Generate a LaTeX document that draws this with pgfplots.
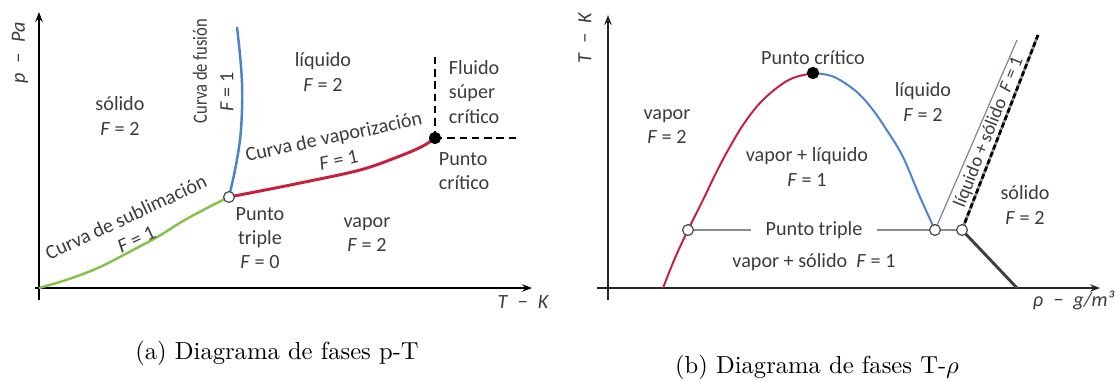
\documentclass[border=0pt]{standalone}
\usepackage{fontspec}
\usepackage{pgfplots}
\pgfplotsset{compat=1.18}
\usetikzlibrary{arrows.meta}
\newfontfamily\lab{Carlito}
\definecolor{labgray}{HTML}{3C3C3C}
\definecolor{vapred}{HTML}{C8203C}
\definecolor{fusblue}{HTML}{4A82CC}
\definecolor{subgreen}{HTML}{86C24A}
\definecolor{linegray}{HTML}{8A8A8A}

\pgfplotsset{
  phase/.style={
    axis lines=middle, x=0.4066pt, y=0.4066pt, anchor=origin,
    xtick=\empty, ytick=\empty, clip=false,
    axis line style={black, line width=0.9pt, -{Stealth[length=4pt,width=3pt]}},
  },
  triple/.style={only marks, mark=*, mark size=2.2pt,
    mark options={fill=white, draw=black!70, line width=0.5pt}},
  critical/.style={only marks, mark=*, mark size=2.3pt, mark options={fill=black, draw=black}},
}

\begin{document}
\begin{tikzpicture}[x=0.4066pt, y=0.4066pt,
  lbl/.style={font=\lab\fontsize{8.2}{9.8}\selectfont, text=labgray, align=center, inner sep=1pt},
  capt/.style={font=\fontsize{10}{12}\selectfont, inner sep=0pt}]
\useasboundingbox (0,0) rectangle (1119,381);

% ---------------- (a) p-T diagram ----------------
\begin{axis}[phase, at={(39,93)}, xmin=-4, xmax=493, ymin=-12, ymax=276]
  % sublimation curve
  \addplot[subgreen, line width=1pt, smooth, tension=0.6] coordinates
    {(0,0) (30,9) (61,21) (94,38) (120,52) (144,67) (170,81) (190,91)};
  % fusion curve
  \addplot[fusblue, line width=1pt, smooth, tension=0.6] coordinates
    {(190,91) (196,118) (201,148) (203,178) (203,205) (201,233) (198,261)};
  % vaporization curve
  \addplot[vapred, line width=1.2pt, smooth, tension=0.6] coordinates
    {(190,91) (221,97) (261,105) (321,118) (361,132) (384,142) (396,150)};
  % supercritical boundaries
  \addplot[black, line width=0.9pt, densely dashed] coordinates {(396,150) (396,233)};
  \addplot[black, line width=0.9pt, densely dashed] coordinates {(396,150) (479,150)};
  \addplot[critical] coordinates {(396,150)};
  \addplot[triple] coordinates {(190,91)};
\end{axis}

\node[lbl] at (120,265) {sólido\\\textit{F} = 2};
\node[lbl, rotate=90] at (200,310) {\scalebox{0.82}[1]{Curva de fusión}};
\node[lbl, rotate=90] at (227,289) {\textit{F} = 1};
\node[lbl] at (323,309) {líquido\\\textit{F} = 2};
\node[lbl, anchor=west, align=left] at (446,289) {Fluido\\súper\\crítico};
\node[lbl, anchor=west, align=left] at (436,210) {Punto\\crítico};
\node[lbl, rotate=12] at (336,233) {Curva de vaporización\\\textit{F} = 1};
\node[lbl, rotate=25] at (131,153) {Curva de sublimación\\\textit{F} = 1};
\node[lbl] at (260,143) {Punto\\triple\\\textit{F} = 0};
\node[lbl] at (367,146) {vapor\\\textit{F} = 2};
\node[lbl, rotate=90] at (20,328) {\itshape p\enspace−\enspace Pa};
\node[lbl] at (523,79) {\itshape T\enspace−\enspace K};
\node[capt] at (277,28) {(a) Diagrama de fases p-T};

% ---------------- (b) T-rho diagram ----------------
\begin{axis}[phase, at={(608,93)}, xmin=-11, xmax=492, ymin=-12, ymax=273,
  axis line style={black!85, line width=1.2pt, -{Stealth[length=4pt,width=3pt]}}]
  % saturated vapour branch
  \addplot[vapred, line width=0.8pt, smooth, tension=0.6] coordinates
    {(55,0) (67,30) (80,58) (95,88) (107,113) (119,136) (135,163) (152,185) (170,201) (185,210) (205,215)};
  % saturated liquid branch
  \addplot[fusblue, line width=0.8pt, smooth, tension=0.6] coordinates
    {(205,215) (220,213) (232,208) (250,195) (265,178) (280,156) (295,131) (312,91) (327,58)};
  % triple line
  \addplot[linegray, line width=0.5pt] coordinates {(80,58) (354,58)};
  % liquid + solid strip
  \addplot[linegray!80!fusblue, line width=0.5pt] coordinates {(327,58) (409,248)};
  \addplot[black!45, line width=1.1pt] coordinates {(354,58) (430,253)};
  \addplot[black, line width=1.1pt, dash pattern=on 2pt off 1.2pt] coordinates {(354,58) (430,253)};
  % sublimation boundary
  \addplot[black!75, line width=1.2pt] coordinates {(354,58) (409,0)};
  \addplot[critical] coordinates {(205,215)};
  \addplot[triple] coordinates {(80,58) (327,58) (354,58)};
\end{axis}

\node[lbl, rotate=90] at (585,343) {\itshape T\enspace−\enspace K};
\node[lbl] at (813,323) {Punto crítico};
\node[lbl] at (667,254) {vapor\\\textit{F} = 2};
\node[lbl] at (807,214) {vapor + líquido\\\textit{F} = 1};
\node[lbl] at (923,279) {líquido\\\textit{F} = 2};
\node[lbl, rotate=68.3, font=\lab\fontsize{7.6}{9}\selectfont, inner sep=0pt] at (989,249) {líquido + sólido \ \textit{F} = 1};
\node[lbl] at (1025,176) {sólido\\\textit{F} = 2};
\node[lbl, fill=white, inner xsep=6pt, inner ysep=2pt] at (814,151) {Punto triple};
\node[lbl] at (814,119) {vapor + sólido \ \textit{F} = 1};
\node[lbl, anchor=west] at (1030,81) {\itshape ρ\enspace−\enspace g/m³};
\node[capt] at (817,14) {(b) Diagrama de fases T-$\rho$};
\end{tikzpicture}
\end{document}
